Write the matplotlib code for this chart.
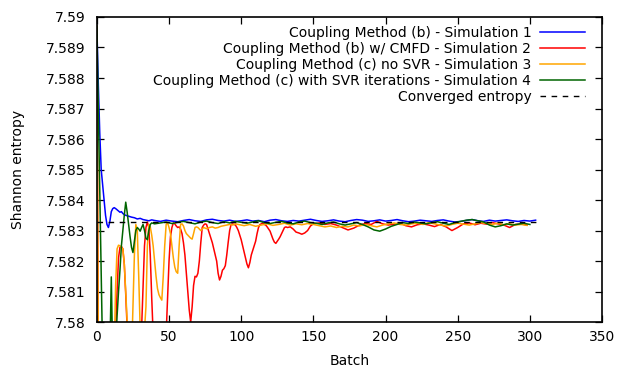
import numpy as np
import matplotlib
matplotlib.use("Agg")
import matplotlib.pyplot as plt

# Shannon entropy per batch
blue_x = list(range(0, 21)) + list(range(22, 41, 2)) + list(range(44, 305, 4))
blue_y = [7.5897, 7.5878, 7.5862, 7.5850, 7.5845, 7.5840, 7.5835, 7.5832, 7.5831, 7.5833,
	7.58362, 7.58372, 7.58375, 7.58372, 7.58368, 7.58364, 7.58360, 7.58362, 7.58356, 7.58352,
	7.58350, 7.58347, 7.58344, 7.58342, 7.58338, 7.58340, 7.58336, 7.58334, 7.58332, 7.58335,
	7.58333,
	7.58330, 7.58334, 7.58331, 7.58329, 7.58333, 7.58336, 7.58332, 7.58330, 7.58335, 7.58337,
	7.58333, 7.58331, 7.58334, 7.58330, 7.58332, 7.58335, 7.58331, 7.58333, 7.58329, 7.58334,
	7.58336, 7.58332, 7.58330, 7.58333, 7.58331, 7.58334, 7.58337, 7.58333, 7.58330, 7.58332,
	7.58335, 7.58331, 7.58329, 7.58333, 7.58336, 7.58334, 7.58330, 7.58332, 7.58335, 7.58331,
	7.58333, 7.58336, 7.58332, 7.58329, 7.58331, 7.58334, 7.58332, 7.58330, 7.58333, 7.58335,
	7.58331, 7.58328, 7.58330, 7.58333, 7.58336, 7.58332, 7.58330, 7.58334, 7.58331, 7.58333,
	7.58335, 7.58332, 7.58330, 7.58333, 7.58331, 7.58334]

red_x = [0, 1, 6, 12, 13, 14, 15, 16, 17, 18, 19, 20, 21, 26, 31, 32, 33, 34, 35, 36, 37, 38, 39, 44] \
	+ list(range(48, 133)) + list(range(134, 151, 2)) + list(range(154, 299, 4))
red_y = [7.5897, 7.5785, 7.5780, 7.5785, 7.5797, 7.5810, 7.5821, 7.58245, 7.58248, 7.58240,
	7.58190, 7.58090, 7.57980, 7.57850, 7.5798, 7.5812, 7.5825, 7.5831, 7.58328, 7.5831,
	7.5822, 7.5808, 7.5796, 7.5785,
	7.5796, 7.5808, 7.5820, 7.5828, 7.5831, 7.58325, 7.58322, 7.58315, 7.58310, 7.58312,
	7.58305, 7.5829, 7.5826, 7.5822, 7.5816, 7.5810, 7.5804, 7.5800, 7.5805, 7.5812,
	7.5815, 7.58148, 7.5816, 7.5820, 7.5826, 7.5831, 7.58318, 7.58322, 7.58320, 7.58305,
	7.58290, 7.58275, 7.58260, 7.58240, 7.58220, 7.58200, 7.58160, 7.58138, 7.58150, 7.58170,
	7.58175, 7.58185, 7.58220, 7.58262, 7.58300, 7.58320, 7.58322, 7.58320, 7.58318, 7.58310,
	7.58300, 7.58285, 7.58270, 7.58250, 7.58230, 7.58210, 7.58190, 7.58178, 7.58195, 7.58220,
	7.58235, 7.58250, 7.58265, 7.58290, 7.58310, 7.58320, 7.58322, 7.58325, 7.58320, 7.58318,
	7.58312, 7.58305, 7.58298, 7.58285, 7.58272, 7.58262, 7.58258, 7.58265, 7.58272, 7.58280,
	7.58290, 7.58300, 7.58310, 7.58312, 7.58310,
	7.58312, 7.58305, 7.58295, 7.58292, 7.58288, 7.58292, 7.58300, 7.58315, 7.58322,
	7.58325, 7.58320, 7.58323, 7.58318, 7.58310, 7.58302, 7.58308, 7.58318, 7.58323, 7.58320,
	7.58330, 7.58322, 7.58318, 7.58321, 7.58325, 7.58316, 7.58312, 7.58319, 7.58322, 7.58318,
	7.58313, 7.58320, 7.58312, 7.58300, 7.58310, 7.58322, 7.58325, 7.58319, 7.58324, 7.58321,
	7.58326, 7.58322, 7.58318, 7.58310, 7.58320, 7.58322, 7.58318]

orange_x = [0, 1, 6, 12, 13, 14, 15, 16, 17, 18, 19, 20, 21, 22, 24, 25, 26, 27, 28, 29, 30, 32] \
	+ list(range(34, 71)) + list(range(72, 99, 2)) + list(range(102, 299, 4))
orange_y = [7.5897, 7.5788, 7.5782, 7.5790, 7.5812, 7.5824, 7.58252, 7.58250, 7.58245, 7.58240,
	7.58190, 7.58100, 7.58000, 7.57900, 7.57880, 7.58050, 7.58220, 7.58320, 7.58300, 7.58150,
	7.57980, 7.57900,
	7.58050, 7.58250, 7.58320, 7.58312, 7.58285, 7.58250, 7.58200, 7.58150, 7.58110, 7.58090,
	7.58080, 7.58072, 7.58150, 7.58250, 7.58320, 7.58325, 7.58310, 7.58290, 7.58250, 7.58210,
	7.58180, 7.58165, 7.58160, 7.58250, 7.58320, 7.58322, 7.58315, 7.58300, 7.58290, 7.58285,
	7.58280, 7.58275, 7.58272, 7.58290, 7.58310, 7.58312, 7.58310,
	7.58300, 7.58310, 7.58306, 7.58310, 7.58312, 7.58308, 7.58310, 7.58314, 7.58316, 7.58318,
	7.58320, 7.58318, 7.58322, 7.58320,
	7.58316, 7.58320, 7.58314, 7.58318, 7.58322, 7.58317, 7.58320, 7.58324, 7.58318, 7.58322,
	7.58319, 7.58323, 7.58320, 7.58316, 7.58312, 7.58315, 7.58310, 7.58314, 7.58312, 7.58318,
	7.58315, 7.58320, 7.58316, 7.58312, 7.58318, 7.58322, 7.58325, 7.58320, 7.58318, 7.58322,
	7.58324, 7.58320, 7.58326, 7.58322, 7.58318, 7.58315, 7.58320, 7.58324, 7.58321, 7.58318,
	7.58322, 7.58326, 7.58323, 7.58320, 7.58324, 7.58319, 7.58322, 7.58318, 7.58320, 7.58317]

green_x = [0, 1, 2, 3, 4, 9, 10, 11] + list(range(13, 39)) + [40] + list(range(44, 301, 4))
green_y = [7.5897, 7.5870, 7.5843, 7.5816, 7.5789, 7.5790, 7.58148, 7.5788,
	7.5792, 7.5802, 7.5810, 7.5817, 7.5825, 7.5830, 7.5835, 7.58393, 7.5836, 7.5832,
	7.5828, 7.58245, 7.58228, 7.58265, 7.58300, 7.58310, 7.58305, 7.58298, 7.58310, 7.58320,
	7.58300, 7.58275, 7.58270, 7.58300, 7.58320, 7.58325, 7.58322,
	7.58325, 7.58328, 7.58323, 7.58327, 7.58330, 7.58326, 7.58322, 7.58328, 7.58331, 7.58326,
	7.58323, 7.58329, 7.58325, 7.58330, 7.58327, 7.58324, 7.58328, 7.58332, 7.58326, 7.58323,
	7.58327, 7.58330, 7.58325, 7.58322, 7.58328, 7.58331, 7.58326, 7.58324, 7.58320, 7.58325,
	7.58328, 7.58322, 7.58318, 7.58322, 7.58326, 7.58320, 7.58312, 7.58302, 7.58298, 7.58305,
	7.58314, 7.58320, 7.58326, 7.58323, 7.58328, 7.58325, 7.58322, 7.58326, 7.58329, 7.58324,
	7.58320, 7.58326, 7.58330, 7.58334, 7.58336, 7.58332, 7.58328, 7.58318, 7.58312, 7.58316,
	7.58322, 7.58318, 7.58321, 7.58324, 7.58320]

conv_x = [0, 305]
conv_y = [7.58328, 7.58328]

labels = ["Coupling Method (b) - Simulation 1",
	"Coupling Method (b) w/ CMFD - Simulation 2",
	"Coupling Method (c) no SVR - Simulation 3",
	"Coupling Method (c) with SVR iterations - Simulation 4",
	"Converged entropy"]

x_ticks = [0, 50, 100, 150, 200, 250, 300, 350]
y_ticks = [7.58, 7.581, 7.582, 7.583, 7.584, 7.585, 7.586, 7.587, 7.588, 7.589, 7.59]
y_tick_labels = ["7.58", "7.581", "7.582", "7.583", "7.584", "7.585", "7.586", "7.587", "7.588", "7.589", "7.59"]


fig = plt.figure(figsize=(6.17, 3.66), dpi=100)
ax = fig.add_axes([0.157, 0.120, 0.8187, 0.8336])

lw = 1.1
ax.plot(blue_x, blue_y, color="#0000ff", lw=lw, label=labels[0])
ax.plot(red_x, red_y, color="#ff0000", lw=lw, label=labels[1])
ax.plot(orange_x, orange_y, color="#ffa500", lw=lw, label=labels[2])
ax.plot(green_x, green_y, color="#006400", lw=lw, label=labels[3])
ax.plot(conv_x, conv_y, color="black", lw=1.0, dashes=(4, 4), label=labels[4])

ax.set_xlim(0, 350)
ax.set_ylim(7.58, 7.59)
ax.set_xticks(x_ticks)
ax.set_yticks(y_ticks)
ax.set_yticklabels(y_tick_labels)
ax.tick_params(direction="in", top=True, right=True, length=5, width=0.9, labelsize=10)
ax.tick_params(axis="y", pad=8)
ax.tick_params(axis="x", pad=6)
for s in ax.spines.values():
	s.set_linewidth(1.2)

ax.set_xlabel("Batch", fontsize=10, labelpad=7)
ax.set_ylabel("Shannon entropy", fontsize=10, labelpad=15)

ax.legend(loc="upper right", bbox_to_anchor=(0.977, 0.99), borderaxespad=0,
	frameon=False, markerfirst=False, fontsize=10,
	handlelength=3.2, handletextpad=0.65, labelspacing=0.15)

plt.savefig("out.png", dpi=100)
